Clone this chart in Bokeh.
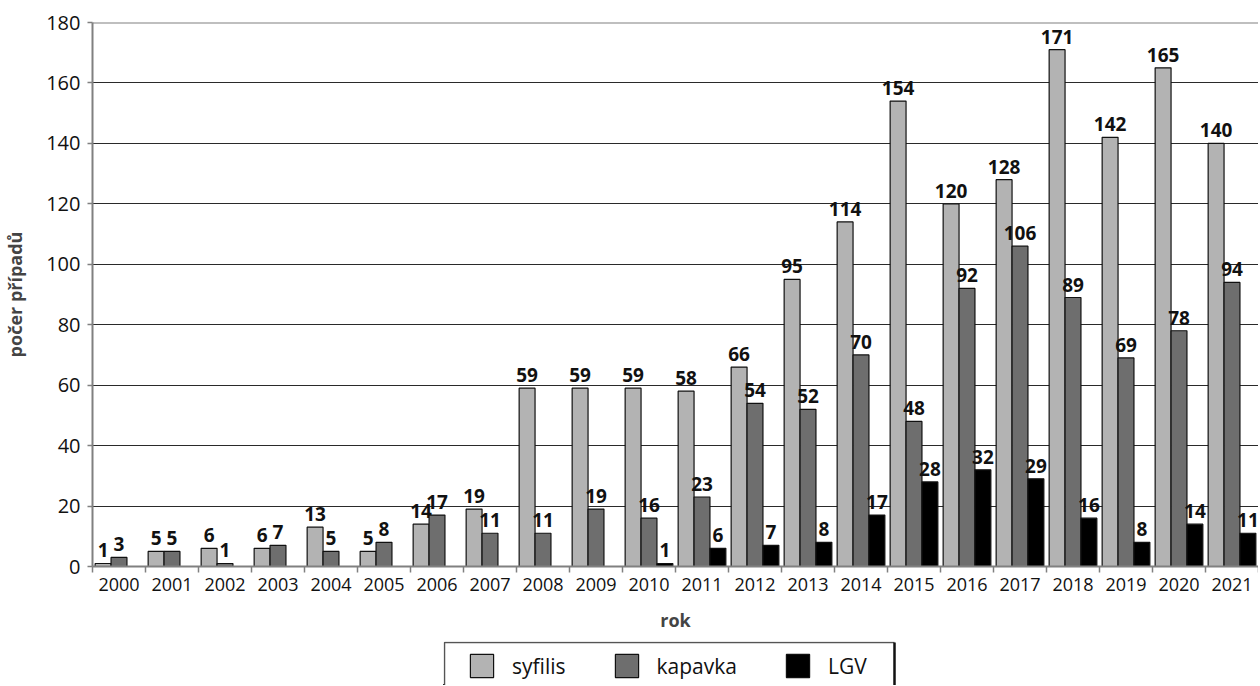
import numpy as np
from bokeh.plotting import figure
from bokeh.layouts import column, row
from bokeh.models import ColumnDataSource, FixedTicker, Legend, LegendItem, Span, Spacer
from bokeh.transform import dodge
from bokeh.embed import file_html
from bokeh.resources import INLINE
from bokeh.core.properties import value

# ---- data ----
years = [str(y) for y in range(2000, 2022)]
syfilis = [1, 5, 6, 6, 13, 5, 14, 19, 59, 59, 59, 58, 66, 95, 114, 154, 120, 128, 171, 142, 165, 140]
kapavka = [3, 5, 1, 7, 5, 8, 17, 11, 11, 19, 16, 23, 54, 52, 70, 48, 92, 106, 89, 69, 78, 94]
lgv = [None] * 10 + [1, 6, 7, 8, 17, 28, 32, 29, 16, 8, 14, 11]
y_ticks = list(range(0, 181, 20))
series_names = ["syfilis", "kapavka", "LGV"]
series_colors = ["#b3b3b3", "#6e6e6e", "#000000"]

FONT = "Open Sans"
W, H = 1258, 641

x = np.arange(len(years))


def to_arr(vals):
    return np.array([np.nan if v is None else v for v in vals], dtype=float)


def to_lbl(vals):
    return ["" if v is None else str(v) for v in vals]


src = ColumnDataSource(dict(
    x=x,
    syfilis=to_arr(syfilis), kapavka=to_arr(kapavka), LGV=to_arr(lgv),
    syfilis_l=to_lbl(syfilis), kapavka_l=to_lbl(kapavka), LGV_l=to_lbl(lgv),
))

p = figure(width=W, height=H, x_range=(-0.5, len(years) - 0.5), y_range=(0, 180),
           output_backend="svg", toolbar_location=None,
           min_border_top=22, min_border_right=0, min_border_left=0, min_border_bottom=75)
p.outline_line_color = None
p.background_fill_color = "white"

bw = 0.3
offsets = [-0.3, 0.0, 0.3]
renderers = []
for name, col, off in zip(series_names, series_colors, offsets):
    r = p.vbar(x=dodge("x", off), top=name, width=bw, source=src,
               fill_color=col, line_color="#111111", line_width=1.2)
    renderers.append(r)
    p.text(x=dodge("x", off), y=name, text=name + "_l", source=src,
           text_align="center", text_baseline="bottom", y_offset=-6,
           text_font=value(FONT), text_font_style="bold", text_font_size="19px",
           text_color="#111111")

# grid
p.xgrid.grid_line_color = None
p.ygrid.ticker = FixedTicker(ticks=y_ticks[1:-1])
p.ygrid.grid_line_color = "#2a2a2a"
p.ygrid.grid_line_width = 1
p.add_layout(Span(location=y_ticks[-1], dimension="width", line_color="#808080", line_width=2))

# x axis
p.xaxis.ticker = FixedTicker(ticks=list(x), minor_ticks=list(np.arange(-0.5, len(years), 1.0)))
p.xaxis.major_label_overrides = {int(i): y for i, y in zip(x, years)}
p.xaxis.major_tick_line_color = None
p.xaxis.minor_tick_in = 0
p.xaxis.minor_tick_out = 6
p.xaxis.minor_tick_line_color = "#808080"
p.xaxis.minor_tick_line_width = 1.5
p.xaxis.axis_line_color = "#808080"
p.xaxis.axis_line_width = 2
p.xaxis.major_label_text_font = FONT
p.xaxis.major_label_text_font_size = "18px"
p.xaxis.major_label_text_color = "#111111"
p.xaxis.major_label_standoff = 5
p.xaxis.axis_label = "rok"
p.xaxis.axis_label_text_font = FONT
p.xaxis.axis_label_text_font_style = "bold"
p.xaxis.axis_label_text_font_size = "18px"
p.xaxis.axis_label_standoff = 14

# y axis
p.yaxis.ticker = FixedTicker(ticks=y_ticks, minor_ticks=[])
p.yaxis.major_tick_in = 0
p.yaxis.major_tick_out = 5
p.yaxis.major_tick_line_color = "#808080"
p.yaxis.major_tick_line_width = 1.5
p.yaxis.axis_line_color = "#808080"
p.yaxis.axis_line_width = 2
p.yaxis.major_label_text_font = FONT
p.yaxis.major_label_text_font_size = "20px"
p.yaxis.major_label_text_color = "#111111"
p.yaxis.major_label_standoff = 7
p.yaxis.axis_label = "počer případů"
p.yaxis.axis_label_text_font = FONT
p.yaxis.axis_label_text_font_style = "bold"
p.yaxis.axis_label_text_font_size = "18px"
p.yaxis.axis_label_standoff = 16

# ---- legend panel (separate small figure whose lines form the legend box) ----
LW, LH = 453, 44
lg = figure(width=LW, height=LH, x_range=(0, LW), y_range=(0, LH),
            output_backend="svg", toolbar_location=None,
            x_axis_location=None, y_axis_location=None,
            min_border=0, min_border_left=0, min_border_right=0, min_border_top=0, min_border_bottom=0)
lg.outline_line_color = None
lg.xgrid.grid_line_color = None
lg.ygrid.grid_line_color = None
lg.line(x=[1, 1, LW - 2], y=[-5, LH - 1, LH - 1], line_color="#555555", line_width=1.5)
lg.line(x=[LW - 2, LW - 2], y=[LH - 1, -5], line_color="#111111", line_width=2.5)

# legend-only glyph renderers (one point each, outside the visible range)
leg_renderers = []
for name, col in zip(series_names, series_colors):
    leg_renderers.append(lg.vbar(x=[-1000], top=[1], width=1, fill_color=col,
                                 line_color="#111111", line_width=1.2))

legend = Legend(items=[LegendItem(label=n, renderers=[r]) for n, r in zip(series_names, leg_renderers)],
                orientation="horizontal", location=(24, 5),
                glyph_width=29, glyph_height=29, label_standoff=16, spacing=46,
                padding=0, margin=0,
                label_text_font=FONT, label_text_font_size="21px", label_text_color="#111111",
                border_line_color=None, background_fill_alpha=0)
lg.add_layout(legend)

layout = column(p, row(Spacer(width=443, height=LH), lg))

open("out.html", "w").write(file_html(layout, INLINE))
